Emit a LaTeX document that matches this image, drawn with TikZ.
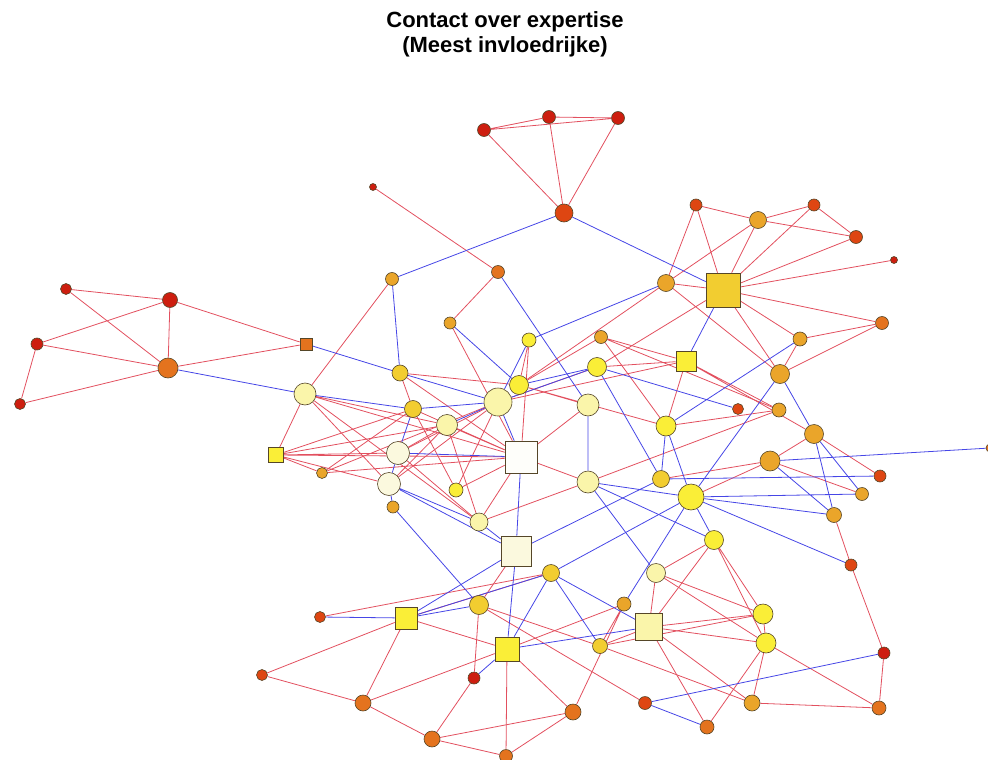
\documentclass[tikz,border=0pt]{standalone}
\usepackage{fontspec}
\setmainfont{Liberation Sans}
\usetikzlibrary{backgrounds}

\definecolor{rim}{RGB}{85,70,40}
\definecolor{cRed}{RGB}{205,30,15}
\definecolor{cRedOr}{RGB}{222,70,18}
\definecolor{cOrange}{RGB}{228,115,30}
\definecolor{cAmber}{RGB}{234,165,42}
\definecolor{cGold}{RGB}{242,205,48}
\definecolor{cYellow}{RGB}{250,238,55}
\definecolor{cPale}{RGB}{250,245,170}
\definecolor{cCream}{RGB}{251,249,222}
\definecolor{cWhite}{RGB}{254,254,250}
\definecolor{edgered}{RGB}{226,80,95}
\definecolor{edgeblue}{RGB}{70,70,230}

\tikzset{
    vtx/.style 2 args={shape=circle, draw=rim, fill=#1, minimum size=#2, inner sep=0pt, line width=0.6pt},
    sqnode/.style 2 args={shape=rectangle, draw=rim, fill=#1, minimum size=#2, inner sep=0pt, line width=0.6pt},
    redge/.style={draw=edgered, line width=0.8pt},
    bedge/.style={draw=edgeblue, line width=0.8pt}
}

\begin{document}
\begin{tikzpicture}[x=1pt, y=-1pt]
    \useasboundingbox (0,0) rectangle (988,760);
    \node[align=center, font=\fontsize{22}{25}\selectfont\bfseries] (title) at (505,34) {Contact over expertise\\(Meest invloedrijke)};

    % top group
    \node[vtx={cRed}{7pt}] (t0) at (373,187) {};
    \node[vtx={cRed}{13pt}] (t1) at (484,130) {};
    \node[vtx={cRed}{13pt}] (t2) at (549,117) {};
    \node[vtx={cRed}{13pt}] (t3) at (618,118) {};
    \node[vtx={cRedOr}{18pt}] (t4) at (564,213) {};

    % left group
    \node[vtx={cRed}{11pt}] (l1) at (66,289) {};
    \node[vtx={cRed}{15pt}] (l2) at (170,300) {};
    \node[vtx={cRed}{12pt}] (l3) at (37,344) {};
    \node[vtx={cOrange}{20pt}] (l4) at (168,368) {};
    \node[vtx={cRed}{11pt}] (l5) at (20,404) {};
    \node[sqnode={cOrange}{12pt}] (lsq) at (306,344) {};

    % top right group
    \node[vtx={cRedOr}{12pt}] (r1) at (696,205) {};
    \node[vtx={cAmber}{17pt}] (r2) at (758,220) {};
    \node[vtx={cRedOr}{12pt}] (r3) at (814,205) {};
    \node[vtx={cRedOr}{13pt}] (r4) at (856,237) {};
    \node[vtx={cRed}{7pt}] (r5) at (894,260) {};
    \node[vtx={cAmber}{17pt}] (r6) at (666,283) {};
    \node[sqnode={cGold}{34pt}] (rsq) at (723,290) {};
    \node[vtx={cOrange}{13pt}] (r8) at (882,323) {};

    % middle
    \node[vtx={cAmber}{13pt}] (m1) at (392,279) {};
    \node[vtx={cOrange}{13pt}] (m2) at (498,272) {};
    \node[vtx={cAmber}{12pt}] (m3) at (450,323) {};
    \node[vtx={cYellow}{14pt}] (m4) at (529,340) {};
    \node[vtx={cAmber}{13pt}] (m5) at (601,337) {};
    \node[sqnode={cYellow}{20pt}] (msq1) at (686,361) {};
    \node[vtx={cYellow}{19pt}] (m7) at (597,367) {};
    \node[vtx={cGold}{16pt}] (m8) at (400,373) {};
    \node[vtx={cYellow}{19pt}] (m9) at (519,385) {};
    \node[vtx={cPale}{22pt}] (m10) at (305,394) {};
    \node[vtx={cPale}{28pt}] (m11) at (498,402) {};
    \node[vtx={cPale}{22pt}] (m12) at (588,405) {};
    \node[vtx={cGold}{17pt}] (m13) at (413,409) {};
    \node[vtx={cPale}{21pt}] (m14) at (447,425) {};
    \node[vtx={cYellow}{20pt}] (m15) at (666,426) {};
    \node[vtx={cRedOr}{11pt}] (m16) at (738,409) {};
    \node[vtx={cAmber}{19pt}] (m17) at (780,374) {};
    \node[vtx={cAmber}{14pt}] (m18) at (779,410) {};
    \node[vtx={cAmber}{14pt}] (m19) at (800,339) {};
    \node[vtx={cAmber}{19pt}] (m20) at (814,434) {};
    \node[vtx={cCream}{23pt}] (m21) at (398,453) {};
    \node[sqnode={cWhite}{32pt}] (msq2) at (521,457) {};
    \node[sqnode={cYellow}{15pt}] (msq3) at (276,455) {};
    \node[vtx={cAmber}{11pt}] (m24) at (322,473) {};
    \node[vtx={cAmber}{20pt}] (m25) at (770,461) {};
    \node[vtx={cCream}{23pt}] (m26) at (389,484) {};
    \node[vtx={cYellow}{14pt}] (m27) at (456,490) {};
    \node[vtx={cPale}{22pt}] (m28) at (588,482) {};
    \node[vtx={cGold}{17pt}] (m29) at (661,479) {};
    \node[vtx={cYellow}{26pt}] (m30) at (691,497) {};
    \node[vtx={cAmber}{12pt}] (m31) at (393,507) {};
    \node[vtx={cRedOr}{12pt}] (m32) at (880,476) {};
    \node[vtx={cAmber}{13pt}] (m33) at (862,494) {};
    \node[vtx={cAmber}{15pt}] (m34) at (834,515) {};
    \node[vtx={cOrange}{8pt}] (m35) at (990,448) {};
    \node[vtx={cPale}{18pt}] (m36) at (479,522) {};
    \node[vtx={cYellow}{19pt}] (m37) at (714,540) {};
    \node[sqnode={cCream}{30pt}] (msq4) at (516,551) {};

    % bottom
    \node[vtx={cRedOr}{12pt}] (b39) at (851,565) {};
    \node[vtx={cGold}{17pt}] (b40) at (551,573) {};
    \node[vtx={cPale}{19pt}] (b41) at (656,573) {};
    \node[sqnode={cYellow}{22pt}] (bsq1) at (406,618) {};
    \node[vtx={cGold}{19pt}] (b43) at (479,605) {};
    \node[vtx={cAmber}{14pt}] (b44) at (624,604) {};
    \node[vtx={cRedOr}{11pt}] (b45) at (320,617) {};
    \node[sqnode={cPale}{27pt}] (bsq2) at (649,627) {};
    \node[vtx={cYellow}{20pt}] (b47) at (763,614) {};
    \node[vtx={cYellow}{20pt}] (b48) at (766,643) {};
    \node[sqnode={cYellow}{24pt}] (bsq3) at (507,649) {};
    \node[vtx={cGold}{15pt}] (b50) at (600,646) {};
    \node[vtx={cRed}{12pt}] (b51) at (884,653) {};
    \node[vtx={cRedOr}{11pt}] (b52) at (262,675) {};
    \node[vtx={cRed}{12pt}] (b53) at (474,678) {};
    \node[vtx={cOrange}{16pt}] (b54) at (363,703) {};
    \node[vtx={cOrange}{16pt}] (b55) at (573,712) {};
    \node[vtx={cRedOr}{13pt}] (b56) at (645,703) {};
    \node[vtx={cOrange}{14pt}] (b57) at (707,727) {};
    \node[vtx={cAmber}{16pt}] (b58) at (752,703) {};
    \node[vtx={cOrange}{14pt}] (b59) at (879,708) {};
    \node[vtx={cOrange}{16pt}] (b60) at (432,739) {};
    \node[vtx={cOrange}{13pt}] (b61) at (506,756) {};

    \begin{pgfonlayer}{background}
        % red ties
        \draw[redge] (t1) -- (t2) (t1) -- (t3) (t2) -- (t3) (t1) -- (t4) (t2) -- (t4) (t3) -- (t4);
        \draw[redge] (t0) -- (m2);
        \draw[redge] (l1) -- (l2) (l1) -- (l4) (l2) -- (l3) (l2) -- (l4) (l2) -- (lsq);
        \draw[redge] (l3) -- (l4) (l3) -- (l5) (l4) -- (l5) (l4) -- (lsq);
        \draw[redge] (r1) -- (r2) (r1) -- (r6) (r1) -- (rsq) (r2) -- (r3) (r2) -- (r4) (r2) -- (r6) (r2) -- (rsq);
        \draw[redge] (r3) -- (r4) (r3) -- (rsq) (r4) -- (rsq) (r5) -- (rsq) (r6) -- (rsq) (rsq) -- (r8);
        \draw[redge] (rsq) -- (m19) (rsq) -- (m17) (rsq) -- (m7) (r6) -- (m17) (r6) -- (m9);
        \draw[redge] (r8) -- (m19) (r8) -- (m17) (m19) -- (m17);
        \draw[redge] (m1) -- (m10) (m2) -- (m3) (m3) -- (msq2) (m4) -- (m9) (m4) -- (msq2);
        \draw[redge] (m5) -- (m9) (m5) -- (msq1) (m5) -- (m15) (m5) -- (m18);
        \draw[redge] (m7) -- (msq1) (m7) -- (m11) (msq1) -- (m15) (msq1) -- (m18) (msq1) -- (m20) (msq1) -- (m11);
        \draw[redge] (m9) -- (m12) (m9) -- (m15) (m8) -- (m9) (m8) -- (m13) (m8) -- (msq2);
        \draw[redge] (m10) -- (msq3) (m10) -- (m14) (m10) -- (m26) (m10) -- (m36) (m10) -- (msq2);
        \draw[redge] (msq3) -- (m13) (msq3) -- (m14) (msq3) -- (m21) (msq3) -- (msq2) (msq3) -- (m26) (msq3) -- (m24);
        \draw[redge] (m24) -- (m13) (m24) -- (m11) (m24) -- (msq2);
        \draw[redge] (m11) -- (m21) (m11) -- (m26) (m11) -- (m27) (m12) -- (msq2);
        \draw[redge] (m13) -- (m27) (m13) -- (msq2) (m14) -- (msq2) (m14) -- (m21) (m14) -- (m26) (m14) -- (m36);
        \draw[redge] (m21) -- (m36) (m27) -- (msq2) (msq2) -- (m28) (msq2) -- (m36) (m28) -- (m36);
        \draw[redge] (m18) -- (m28) (m18) -- (m15) (m20) -- (m25) (m20) -- (m32) (m25) -- (m33) (m25) -- (m30) (m29) -- (m25);
        \draw[redge] (m34) -- (b39) (b45) -- (b40) (bsq1) -- (bsq3) (bsq1) -- (b52) (bsq1) -- (b54) (bsq1) -- (b40);
        \draw[redge] (b43) -- (b53) (b43) -- (msq4) (b43) -- (b50) (b43) -- (b56);
        \draw[redge] (bsq3) -- (b54) (bsq3) -- (b61) (bsq3) -- (b55) (bsq3) -- (b44);
        \draw[redge] (b53) -- (b60) (b52) -- (b54) (b54) -- (b60) (b60) -- (b61) (b60) -- (b55) (b61) -- (b55);
        \draw[redge] (b39) -- (b51) (b51) -- (b59) (b58) -- (b59) (b48) -- (b59) (b47) -- (b48);
        \draw[redge] (m37) -- (b47) (m37) -- (b48) (m37) -- (b41) (m37) -- (bsq2);
        \draw[redge] (b41) -- (bsq2) (b41) -- (b47) (b41) -- (b48) (b44) -- (b50) (b44) -- (b55);
        \draw[redge] (bsq2) -- (b47) (bsq2) -- (b48) (bsq2) -- (b50) (bsq2) -- (b57) (bsq2) -- (b58);
        \draw[redge] (b50) -- (b58) (b50) -- (b47) (b48) -- (b57) (b48) -- (b58);
        % blue ties
        \draw[bedge] (t4) -- (m1) (t4) -- (rsq) (l4) -- (m10) (lsq) -- (m8) (m1) -- (m8) (m2) -- (m12) (m3) -- (m9);
        \draw[bedge] (r6) -- (m4) (rsq) -- (msq1) (m4) -- (m11) (m9) -- (m7) (m11) -- (m7) (m8) -- (m11);
        \draw[bedge] (m10) -- (m13) (m13) -- (m11) (m14) -- (m11) (m13) -- (m21) (m21) -- (msq2) (m21) -- (m26) (m26) -- (m31);
        \draw[bedge] (m11) -- (msq2) (m12) -- (m28) (m7) -- (m16) (m7) -- (m29) (m19) -- (m15) (m17) -- (m20) (m17) -- (m30);
        \draw[bedge] (m15) -- (m29) (m15) -- (m30) (m29) -- (m32) (m30) -- (m33) (m30) -- (m34) (m25) -- (m35) (m25) -- (m34);
        \draw[bedge] (m20) -- (m33) (m20) -- (m34) (m28) -- (m30) (m28) -- (m37) (m28) -- (b41) (msq2) -- (msq4);
        \draw[bedge] (m26) -- (msq4) (m36) -- (msq4) (m26) -- (m36) (m31) -- (b43) (msq4) -- (m29);
        \draw[bedge] (m30) -- (m37) (m30) -- (b44) (m30) -- (b40) (m30) -- (b39);
        \draw[bedge] (b45) -- (bsq1) (bsq1) -- (msq4) (bsq1) -- (b43) (bsq1) -- (b40) (msq4) -- (bsq3) (bsq3) -- (b53);
        \draw[bedge] (bsq3) -- (b40) (bsq2) -- (bsq3) (b40) -- (b50) (b40) -- (bsq2) (b51) -- (b56) (b56) -- (b57);
    \end{pgfonlayer}
\end{tikzpicture}
\end{document}
